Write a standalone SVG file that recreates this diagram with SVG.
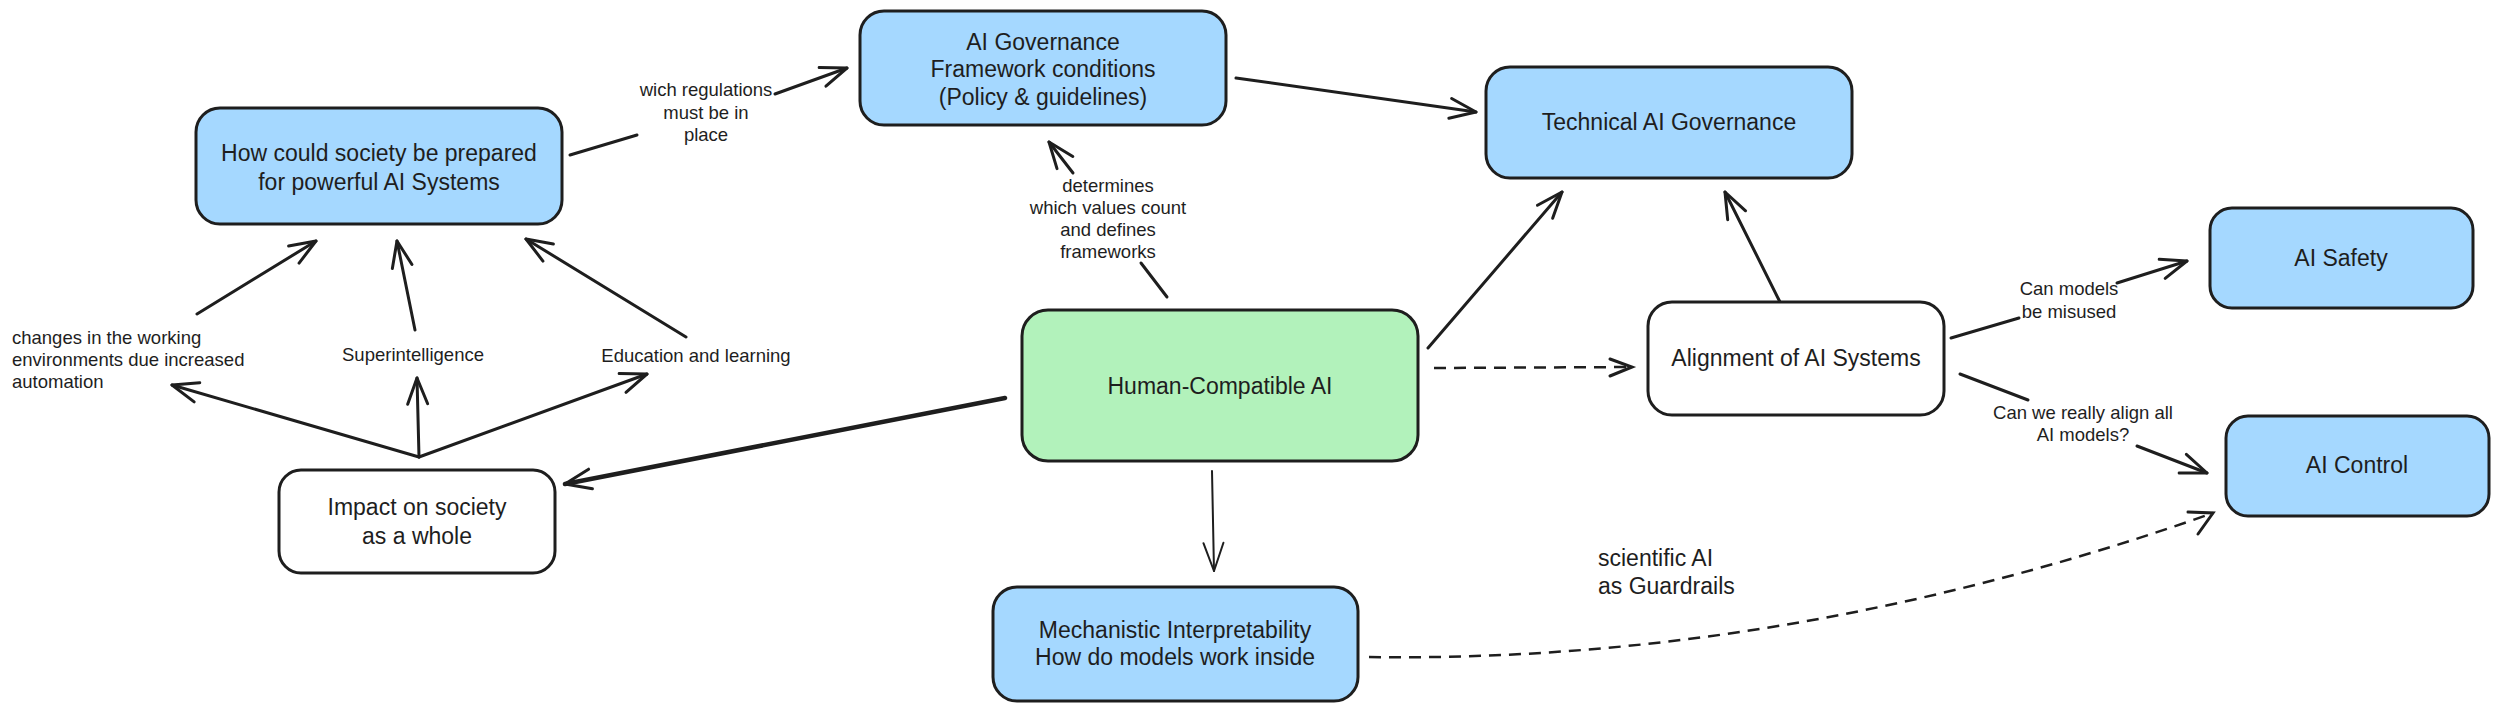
<svg xmlns="http://www.w3.org/2000/svg" width="2500" height="712" viewBox="0 0 2500 712">
<style>
.box{stroke:#1e1e1e;stroke-width:3;}
.blue{fill:#a5d8ff;}
.green{fill:#b2f2bb;}
.white{fill:#ffffff;}
.t{font-family:"Liberation Sans","DejaVu Sans",sans-serif;font-size:23px;fill:#1e1e1e;text-anchor:middle;}
.s{font-family:"Liberation Sans","DejaVu Sans",sans-serif;font-size:18.5px;fill:#1e1e1e;text-anchor:middle;}
.l{text-anchor:start;}
.c{fill:none;stroke:#1e1e1e;stroke-width:3;stroke-linecap:round;}
.thick{stroke-width:4.5;}
.thin{stroke-width:2;}
.dash{stroke-width:2.5;stroke-dasharray:12 8;stroke-linecap:butt;}
</style>
<defs>
<marker id="ah" viewBox="-32 -16 36 32" refX="0" refY="0" markerWidth="36" markerHeight="32" orient="auto" markerUnits="userSpaceOnUse">
<path d="M-26,-10 L0,0 L-26,10" fill="none" stroke="#1e1e1e" stroke-width="3" stroke-linecap="round" stroke-linejoin="round"/>
</marker>
<marker id="ahthin" viewBox="-34 -16 38 32" refX="0" refY="0" markerWidth="38" markerHeight="32" orient="auto" markerUnits="userSpaceOnUse">
<path d="M-28,-10 L0,0 L-28,10" fill="none" stroke="#1e1e1e" stroke-width="2" stroke-linecap="round" stroke-linejoin="round"/>
</marker>
</defs>
<rect width="2500" height="712" fill="#ffffff"/>

<g id="connectors">
<path class="c" d="M570,155 L637,135"/>
<path class="c" d="M775,94 L847,68" marker-end="url(#ah)"/>
<path class="c" d="M1236,78 L1476,112" marker-end="url(#ah)"/>
<path class="c" d="M1167,297 L1141,263"/>
<path class="c" d="M1073,173 L1049,142" marker-end="url(#ah)"/>
<path class="c" d="M1428,348 L1562,192" marker-end="url(#ah)"/>
<path class="c dash" d="M1434,368 L1632,367"/>
<path class="c" d="M1610,359 L1632,367 L1610,376"/>
<path class="c" d="M1780,302 L1725,192" marker-end="url(#ah)"/>
<path class="c" d="M1951,338 L2019,318"/>
<path class="c" d="M2117,283 L2187,261" marker-end="url(#ah)"/>
<path class="c" d="M1960,374 L2028,400"/>
<path class="c" d="M2137,446 L2207,473" marker-end="url(#ah)"/>
<path class="c thick" d="M1005,398 L565,484" marker-end="url(#ah)"/>
<path class="c" d="M419,457 L172,385" marker-end="url(#ah)"/>
<path class="c" d="M419,457 L417,378" marker-end="url(#ah)"/>
<path class="c" d="M419,457 L647,374" marker-end="url(#ah)"/>
<path class="c" d="M197,314 L316,241" marker-end="url(#ah)"/>
<path class="c" d="M415,330 L397,241" marker-end="url(#ah)"/>
<path class="c" d="M686,337 L526,239" marker-end="url(#ah)"/>
<path class="c thin" d="M1212,471 L1214,571" marker-end="url(#ahthin)"/>
<path class="c dash" d="M1369,657 Q1789,663 2213,513"/>
<path class="c" d="M2188,512 L2213,513 L2198,534"/>
</g>

<g id="edge-labels">
<text class="s" x="706" y="95.5">wich regulations</text>
<text class="s" x="706" y="118.5">must be in</text>
<text class="s" x="706" y="140.5">place</text>
<text class="s" x="1108" y="191.5">determines</text>
<text class="s" x="1108" y="213.5">which values count</text>
<text class="s" x="1108" y="235.5">and defines</text>
<text class="s" x="1108" y="257.5">frameworks</text>
<text class="s" x="2069" y="294.5">Can models</text>
<text class="s" x="2069" y="317.5">be misused</text>
<text class="s" x="2083" y="418.5">Can we really align all</text>
<text class="s" x="2083" y="440.5">AI models?</text>
<text class="s l" x="12" y="343.5">changes in the working</text>
<text class="s l" x="12" y="365.5">environments due increased</text>
<text class="s l" x="12" y="387.5">automation</text>
<text class="s" x="413" y="360.5">Superintelligence</text>
<text class="s" x="696" y="361.5">Education and learning</text>
<text class="t l" x="1598" y="566">scientific AI</text>
<text class="t l" x="1598" y="594">as Guardrails</text>
</g>

<g id="node-society">
<rect class="box blue" x="196" y="108" width="366" height="116" rx="24"/>
<text class="t" x="379" y="161">How could society be prepared</text>
<text class="t" x="379" y="190">for powerful AI Systems</text>
</g>

<g id="node-governance">
<rect class="box blue" x="860" y="11" width="366" height="114" rx="24"/>
<text class="t" x="1043" y="50">AI Governance</text>
<text class="t" x="1043" y="77">Framework conditions</text>
<text class="t" x="1043" y="105">(Policy &amp; guidelines)</text>
</g>

<g id="node-technical">
<rect class="box blue" x="1486" y="67" width="366" height="111" rx="24"/>
<text class="t" x="1669" y="130">Technical AI Governance</text>
</g>

<g id="node-human">
<rect class="box green" x="1022" y="310" width="396" height="151" rx="26"/>
<text class="t" x="1220" y="394">Human-Compatible AI</text>
</g>

<g id="node-alignment">
<rect class="box white" x="1648" y="302" width="296" height="113" rx="24"/>
<text class="t" x="1796" y="366">Alignment of AI Systems</text>
</g>

<g id="node-safety">
<rect class="box blue" x="2210" y="208" width="263" height="100" rx="22"/>
<text class="t" x="2341" y="266">AI Safety</text>
</g>

<g id="node-control">
<rect class="box blue" x="2226" y="416" width="263" height="100" rx="22"/>
<text class="t" x="2357" y="473">AI Control</text>
</g>

<g id="node-impact">
<rect class="box white" x="279" y="470" width="276" height="103" rx="22"/>
<text class="t" x="417" y="515">Impact on society</text>
<text class="t" x="417" y="544">as a whole</text>
</g>

<g id="node-mechanistic">
<rect class="box blue" x="993" y="587" width="365" height="114" rx="24"/>
<text class="t" x="1175" y="638">Mechanistic Interpretability</text>
<text class="t" x="1175" y="665">How do models work inside</text>
</g>
</svg>
